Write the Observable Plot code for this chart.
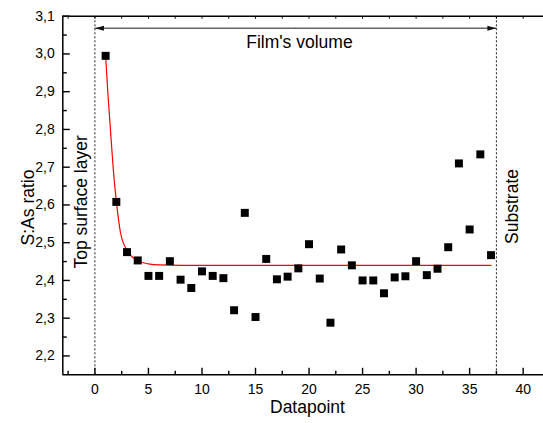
<!DOCTYPE html>
<html>
<head>
<meta charset="utf-8">
<script src="https://cdn.jsdelivr.net/npm/d3@7"></script>
<script src="https://cdn.jsdelivr.net/npm/@observablehq/plot@0.6"></script>
<style>
  html, body { margin: 0; padding: 0; background: #fff; overflow: hidden; }
  #chart svg { display: block; }
</style>
</head>
<body>
<div id="chart"></div>
<script>
// ---- data ----
const datapoint = [1,2,3,4,5,6,7,8,9,10,11,12,13,14,15,16,17,18,19,20,21,22,23,24,25,26,27,28,29,30,31,32,33,34,35,36,37];
const ratio = [2.995,2.608,2.475,2.453,2.412,2.412,2.451,2.402,2.380,2.424,2.412,2.406,2.321,2.579,2.303,2.457,2.403,2.410,2.432,2.496,2.405,2.288,2.482,2.440,2.400,2.400,2.366,2.408,2.411,2.451,2.414,2.431,2.488,2.710,2.535,2.734,2.467];

// fitted curve
const fitX = [1, 1.2, 1.4, 1.7, 2, 2.4, 3, 3.5, 4, 5, 6, 8, 37];
const fitY = [2.995, 2.90, 2.82, 2.70, 2.61, 2.525, 2.48, 2.462, 2.452, 2.444, 2.441, 2.44, 2.44];

// ticks
const xMajorTicks = [0,5,10,15,20,25,30,35,40];
const xTickLabels = ["0","5","10","15","20","25","30","35","40"];
const xMinorTicks = [-2.5,2.5,7.5,12.5,17.5,22.5,27.5,32.5,37.5];
const yMajorTicks = [2.2,2.3,2.4,2.5,2.6,2.7,2.8,2.9,3.0,3.1];
const yTickLabels = ["2,2","2,3","2,4","2,5","2,6","2,7","2,8","2,9","3,0","3,1"];
const yMinorTicks = [2.25,2.35,2.45,2.55,2.65,2.75,2.85,2.95,3.05];

// region boundaries (surface | film | substrate)
const boundaries = [0, 37.5];
const arrowLevel = 3.068;
const filmLabel = [{x: 19.1, y: 3.031, text: "Film's volume"}];
const sideLabels = [
  {x: -1.3, y: 2.608, text: "Top surface layer"},
  {x: 38.95, y: 2.596, text: "Substrate"}
];
const xTitle = "Datapoint";
const yTitle = "S:As ratio";

// ---- scales ----
const xDomain = [-3, 41.9];
const yDomain = [2.15, 3.1];

const font = "'Liberation Sans', Arial, Helvetica, sans-serif";

function tickSymbol(dx, dy) {
  return {draw(ctx) { ctx.moveTo(0, 0); ctx.lineTo(dx, dy); }};
}
const headSymbol = {draw(ctx) { ctx.moveTo(0, 0); ctx.lineTo(-9, -2.5); ctx.lineTo(-9, 2.5); ctx.closePath(); }};

const mid = (boundaries[0] + boundaries[1]) / 2;

const chart = Plot.plot({
  width: 543,
  height: 423,
  marginLeft: 62.3,
  marginRight: 0,
  marginTop: 15.7,
  marginBottom: 48.7,
  x: {domain: xDomain, axis: null},
  y: {domain: yDomain, axis: null},
  style: {fontFamily: font, background: "white", color: "black"},
  marks: [
    // dotted boundaries
    Plot.ruleX(boundaries, {x: d => d, y1: yDomain[0], y2: yDomain[1], stroke: "#222", strokeWidth: 1, strokeDasharray: "2,2"}),
    // film's volume arrow
    Plot.arrow(boundaries, {x1: mid, x2: d => d, y1: arrowLevel, y2: arrowLevel, stroke: "#666", strokeWidth: 1.6, headLength: 0}),
    Plot.dot(boundaries, {x: d => d, y: arrowLevel, symbol: headSymbol, rotate: (d, i) => i ? 0 : 180, fill: "#111", stroke: "none"}),
    Plot.text(filmLabel, {x: "x", y: "y", text: "text", fontSize: 17.5, fill: "black"}),
    Plot.text(sideLabels, {x: "x", y: "y", text: "text", rotate: -90, fontSize: 17.5, fill: "black"}),
    // fit curve
    Plot.line(fitX, {x: d => d, y: (d, i) => fitY[i], stroke: "red", strokeWidth: 1.2, curve: "monotone-x"}),
    // data
    Plot.dot(datapoint, {x: d => d, y: (d, i) => ratio[i], symbol: "square", r: 4.5, fill: "black", stroke: "none"}),
    // frame
    Plot.ruleY(yDomain, {y: d => d, stroke: "black", strokeWidth: 1.5}),
    Plot.ruleX([xDomain[0]], {x: d => d, stroke: "black", strokeWidth: 1.5}),
    // bottom ticks (inward)
    Plot.dot(xMajorTicks, {x: d => d, y: yDomain[0], symbol: tickSymbol(0, -7), stroke: "black", strokeWidth: 1.4, fill: "none"}),
    Plot.dot(xMinorTicks, {x: d => d, y: yDomain[0], symbol: tickSymbol(0, -4), stroke: "black", strokeWidth: 1.4, fill: "none"}),
    // top ticks (inward, small)
    Plot.dot(xMajorTicks.concat(xMinorTicks), {x: d => d, y: yDomain[1], symbol: tickSymbol(0, 2.5), stroke: "black", strokeWidth: 1, fill: "none"}),
    // left ticks (inward)
    Plot.dot(yMajorTicks, {x: xDomain[0], y: d => d, symbol: tickSymbol(7, 0), stroke: "black", strokeWidth: 1.4, fill: "none"}),
    Plot.dot(yMinorTicks, {x: xDomain[0], y: d => d, symbol: tickSymbol(4, 0), stroke: "black", strokeWidth: 1.4, fill: "none"}),
    // tick labels
    Plot.text(xMajorTicks, {x: d => d, y: yDomain[0], text: (d, i) => xTickLabels[i], dy: 14.5, fontSize: 14, fill: "black"}),
    Plot.text(yMajorTicks, {x: xDomain[0], y: d => d, text: (d, i) => yTickLabels[i], textAnchor: "end", dx: -8, fontSize: 14, fill: "black"}),
    // axis titles
    Plot.text([xTitle], {frameAnchor: "bottom", text: d => d, textAnchor: "middle", lineAnchor: "middle", dx: 4.3, dy: 33, fontSize: 17.5, fill: "black"}),
    Plot.text([yTitle], {frameAnchor: "left", text: d => d, rotate: -90, textAnchor: "middle", lineAnchor: "middle", dx: -34.6, dy: 12, fontSize: 17.5, fill: "black"})
  ]
});
document.getElementById("chart").appendChild(chart);
</script>
</body>
</html>
